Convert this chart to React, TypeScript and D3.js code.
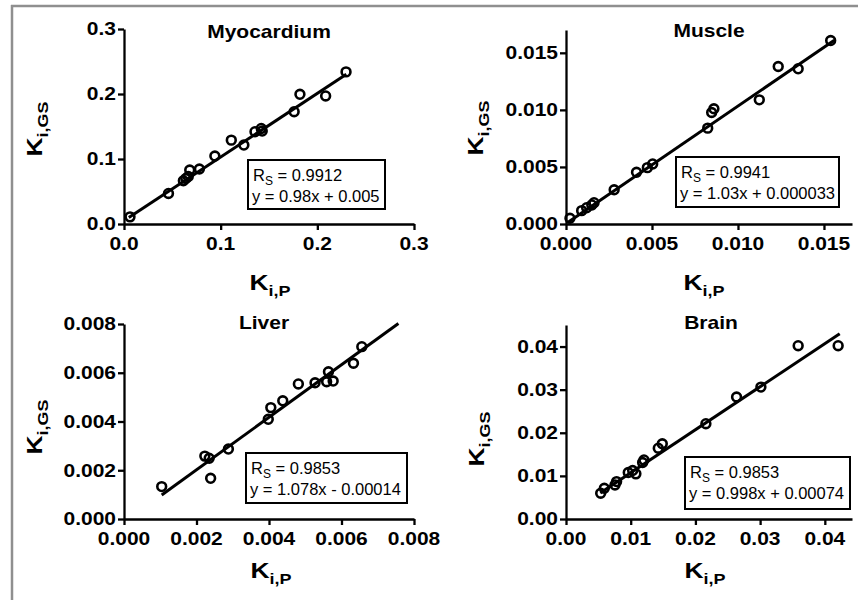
import React, { useEffect, useRef } from 'react';
import * as d3 from 'd3';

// Ki,P (x) vs Ki,GS (y), one pair of arrays per tissue
const myoKiP = [0.0062, 0.046, 0.0614, 0.064, 0.0665, 0.068, 0.078, 0.094, 0.111, 0.124, 0.1355, 0.142, 0.143, 0.176, 0.182, 0.2086, 0.2297];
const myoKiGS = [0.011, 0.047, 0.0666, 0.07, 0.073, 0.083, 0.0846, 0.1046, 0.129, 0.1215, 0.142, 0.147, 0.143, 0.1728, 0.1995, 0.197, 0.234];

const muscleKiP = [0.00023, 0.00091, 0.0012, 0.0015, 0.00163, 0.0028, 0.0041, 0.00473, 0.00504, 0.00824, 0.00847, 0.0086, 0.01124, 0.01234, 0.0135, 0.01539];
const muscleKiGS = [0.0005, 0.00117, 0.00143, 0.00167, 0.00187, 0.003, 0.00453, 0.00494, 0.00526, 0.0084, 0.00977, 0.0101, 0.01088, 0.0138, 0.0136, 0.01608];

const liverKiP = [0.00104, 0.00223, 0.00235, 0.00239, 0.00288, 0.00398, 0.00405, 0.00438, 0.00481, 0.00527, 0.00564, 0.00559, 0.00577, 0.00633, 0.00656];
const liverKiGS = [0.00133, 0.00258, 0.00249, 0.00167, 0.00287, 0.00409, 0.00457, 0.00485, 0.00554, 0.00559, 0.00604, 0.00563, 0.00566, 0.00639, 0.00707];

const brainKiP = [0.00536, 0.00592, 0.00757, 0.00782, 0.00962, 0.0103, 0.0108, 0.01184, 0.01205, 0.01426, 0.01488, 0.02162, 0.02636, 0.03012, 0.03588, 0.04206];
const brainKiGS = [0.00597, 0.00713, 0.0079, 0.00868, 0.01077, 0.01124, 0.01047, 0.0131, 0.0137, 0.01643, 0.01744, 0.0221, 0.0283, 0.0306, 0.0402, 0.0402];

const titles = ['Myocardium', 'Muscle', 'Liver', 'Brain'];
const fitSlope = [0.98, 1.03, 1.078, 0.998];
const fitIntercept = [0.005, 0.000033, -0.00014, 0.00074];
const fitFrom = [0.005, 0.0001, 0.00104, 0.0053];
const fitTo = [0.23, 0.0156, 0.00757, 0.0423];
const rsText = ['0.9912', '0.9941', '0.9853', '0.9853'];
const eqText = ['y = 0.98x + 0.005', 'y = 1.03x + 0.000033', 'y = 1.078x - 0.00014', 'y = 0.998x + 0.00074'];

const myoTicks = [0, 0.1, 0.2, 0.3];
const muscleTicks = [0, 0.005, 0.01, 0.015];
const liverTicks = [0, 0.002, 0.004, 0.006, 0.008];
const brainTicks = [0, 0.01, 0.02, 0.03, 0.04];

const FONT = 'Liberation Sans, Arial, Helvetica, sans-serif';
const STRETCH = 1.2;

const panels = [
  {
    xs: myoKiP, ys: myoKiGS, xTicks: myoTicks, yTicks: myoTicks, fmt: '.1f',
    xDomain: [0, 0.3], yDomain: [0, 0.3], xRange: [124, 414], yRange: [224, 29],
    title: [269, 38], xLab: [270, 290], yLab: [42, 129], box: [248, 160, 137, 49],
  },
  {
    xs: muscleKiP, ys: muscleKiGS, xTicks: muscleTicks, yTicks: muscleTicks, fmt: '.3f',
    xDomain: [0, 0.01663], yDomain: [0, 0.017], xRange: [566, 852], yRange: [224, 30],
    title: [709, 37], xLab: [704, 290], yLab: [483, 128], box: [676, 157, 163, 50],
  },
  {
    xs: liverKiP, ys: liverKiGS, xTicks: liverTicks, yTicks: liverTicks, fmt: '.3f',
    xDomain: [0, 0.008], yDomain: [0, 0.008], xRange: [124, 414], yRange: [519, 324],
    title: [264, 329], xLab: [271, 578], yLab: [42, 427], box: [246, 453, 161, 50],
  },
  {
    xs: brainKiP, ys: brainKiGS, xTicks: brainTicks, yTicks: brainTicks, fmt: '.2f',
    xDomain: [0, 0.0442], yDomain: [0, 0.045], xRange: [566, 852], yRange: [519, 325],
    title: [711, 329], xLab: [705, 578], yLab: [484, 439], box: [685, 457, 165, 52],
  },
];

const App = () => {
  const svgRef = useRef(null);

  useEffect(() => {
    const svg = d3.select(svgRef.current);
    svg.selectAll('*').remove();

    // partial grey frame (top and left edges)
    svg.append('line').attr('x1', 11).attr('x2', 858).attr('y1', 6).attr('y2', 6)
      .attr('stroke', '#8f8f8f').attr('stroke-width', 2.5);
    svg.append('line').attr('x1', 12).attr('x2', 12).attr('y1', 5).attr('y2', 600)
      .attr('stroke', '#8f8f8f').attr('stroke-width', 2.5);

    panels.forEach((p, i) => {
      const x = d3.scaleLinear().domain(p.xDomain).range(p.xRange);
      const y = d3.scaleLinear().domain(p.yDomain).range(p.yRange);
      const fmt = d3.format(p.fmt);
      const g = svg.append('g');

      const xAxis = g.append('g')
        .attr('transform', `translate(0,${p.yRange[0]})`)
        .call(d3.axisBottom(x).tickValues(p.xTicks).tickSize(6).tickSizeOuter(0).tickFormat(() => ''));
      const yAxis = g.append('g')
        .attr('transform', `translate(${p.xRange[0]},0)`)
        .call(d3.axisLeft(y).tickValues(p.yTicks).tickSize(6).tickSizeOuter(0).tickFormat(() => ''));
      [xAxis, yAxis].forEach(a => {
        a.selectAll('path,line').attr('stroke', '#000').attr('stroke-width', 2.3);
        a.selectAll('text').remove();
      });

      // tick labels
      g.selectAll('.xt')
        .data(p.xTicks)
        .join('text')
        .attr('transform', d => `translate(${x(d)},${p.yRange[0] + 26}) scale(${STRETCH},1)`)
        .attr('text-anchor', 'middle')
        .attr('font-family', FONT).attr('font-weight', 'bold').attr('font-size', 17.5)
        .text(d => fmt(d));
      g.selectAll('.yt')
        .data(p.yTicks)
        .join('text')
        .attr('transform', d => `translate(${p.xRange[0] - 8},${y(d) + 6.3}) scale(${STRETCH},1)`)
        .attr('text-anchor', 'end')
        .attr('font-family', FONT).attr('font-weight', 'bold').attr('font-size', 17.5)
        .text(d => fmt(d));

      // title
      g.append('text')
        .attr('transform', `translate(${p.title[0]},${p.title[1]}) scale(${STRETCH},1)`)
        .attr('text-anchor', 'middle')
        .attr('font-family', FONT).attr('font-weight', 'bold').attr('font-size', 17.5)
        .text(titles[i]);

      // axis labels
      const xl = g.append('text')
        .attr('transform', `translate(${p.xLab[0]},${p.xLab[1]}) scale(${STRETCH},1)`)
        .attr('text-anchor', 'middle')
        .attr('font-family', FONT).attr('font-weight', 'bold');
      xl.append('tspan').attr('font-size', 22).text('K');
      xl.append('tspan').attr('font-size', 15).attr('dy', 6).text('i,P');

      const yl = g.append('text')
        .attr('transform', `translate(${p.yLab[0]},${p.yLab[1]}) rotate(-90) scale(${STRETCH},1)`)
        .attr('text-anchor', 'middle')
        .attr('font-family', FONT).attr('font-weight', 'bold');
      yl.append('tspan').attr('font-size', 22).text('K');
      yl.append('tspan').attr('font-size', 15).attr('dy', 6).text('i,GS');

      // regression line
      g.append('line')
        .attr('x1', x(fitFrom[i])).attr('y1', y(fitSlope[i] * fitFrom[i] + fitIntercept[i]))
        .attr('x2', x(fitTo[i])).attr('y2', y(fitSlope[i] * fitTo[i] + fitIntercept[i]))
        .attr('stroke', '#000').attr('stroke-width', 3);

      // data points
      g.selectAll('.pt')
        .data(p.xs.map((v, k) => [v, p.ys[k]]))
        .join('circle')
        .attr('cx', d => x(d[0]))
        .attr('cy', d => y(d[1]))
        .attr('r', 4.4)
        .attr('fill', 'none')
        .attr('stroke', '#000')
        .attr('stroke-width', 2.6);

      // stats box
      const [bx, by, bw, bh] = p.box;
      g.append('rect')
        .attr('x', bx).attr('y', by).attr('width', bw).attr('height', bh)
        .attr('fill', '#fff').attr('stroke', '#000').attr('stroke-width', 2);
      const t1 = g.append('text')
        .attr('x', bx + 5).attr('y', by + 21)
        .attr('font-family', FONT).attr('font-size', 16.5);
      t1.append('tspan').text('R');
      t1.append('tspan').attr('font-size', 12).attr('dy', 4).text('S');
      t1.append('tspan').attr('dy', -4).text(' = ' + rsText[i]);
      g.append('text')
        .attr('x', bx + 4).attr('y', by + 42)
        .attr('font-family', FONT).attr('font-size', 16.5)
        .text(eqText[i]);
    });
  }, []);

  return (
    <svg ref={svgRef} width={858} height={600}
      style={{ position: 'absolute', left: 0, top: 0, background: '#fff' }} />
  );
};

export default App;
